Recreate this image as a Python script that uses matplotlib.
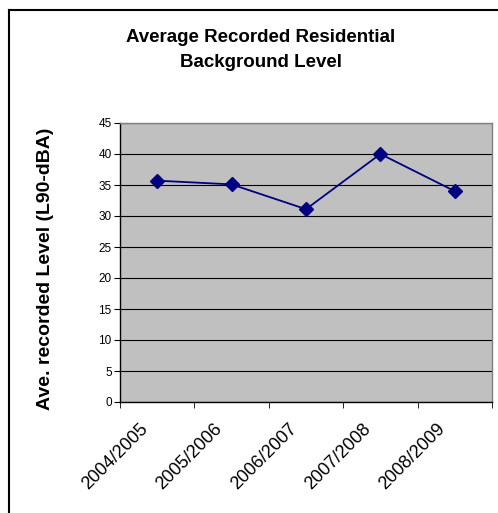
import matplotlib
matplotlib.use('Agg')
import matplotlib.pyplot as plt
from matplotlib.lines import Line2D
from matplotlib.transforms import ScaledTranslation

plt.rcParams['font.family'] = ['Liberation Sans', 'DejaVu Sans']

years = ['2004/2005', '2005/2006', '2006/2007', '2007/2008', '2008/2009']
levels = [35.7, 35.1, 31.1, 40.0, 34.0]
yticks = list(range(0, 50, 5))

fig = plt.figure(figsize=(4.98, 5.13), dpi=100)
ax = fig.add_axes([120 / 498, 111 / 513, 372 / 498, 279 / 513])

ax.set_facecolor('#c0c0c0')
x = list(range(len(years)))
ax.plot(x, levels, color='#000080', lw=1.3, marker='D', ms=7,
        markerfacecolor='#000080', markeredgecolor='#000080', zorder=3)

ax.set_xlim(-0.5, len(years) - 0.5)
ax.set_ylim(0, 45)
ax.set_yticks(yticks)
ax.set_yticklabels([str(v) for v in yticks], fontsize=8.5)
ax.grid(axis='y', color='black', lw=0.8)
ax.set_axisbelow(True)

# category labels centred, ticks on boundaries (excel style)
ax.set_xticks(x)
ax.set_xticklabels(years, rotation=45, ha='right', va='top', fontsize=13)
ax.tick_params(axis='x', length=0, pad=13)
shift = ScaledTranslation(-6 / 100, 0, fig.dpi_scale_trans)
for lab in ax.get_xticklabels():
    lab.set_transform(lab.get_transform() + shift)
ax.set_xticks([i - 0.5 for i in range(len(years) + 1)], minor=True)
ax.tick_params(axis='x', which='minor', length=4, color='black', direction='out')
ax.tick_params(axis='y', length=4, color='black', pad=2)

for s in ['top', 'right']:
    ax.spines[s].set_color('#808080')
    ax.spines[s].set_linewidth(1.0)
for s in ['left', 'bottom']:
    ax.spines[s].set_color('black')
    ax.spines[s].set_linewidth(1.0)

fig.text(261 / 498, 1 - 37 / 513, 'Average Recorded Residential', ha='center', va='center',
         fontsize=13.5, fontweight='bold')
fig.text(261 / 498, 1 - 63 / 513, 'Background Level', ha='center', va='center',
         fontsize=13.5, fontweight='bold')
fig.text(45 / 498, 1 - 269 / 513, 'Ave. recorded Level (L90-dBA)', ha='center', va='center',
         rotation=90, fontsize=14, fontweight='bold')

# chart area border
bx, by = 8.5 / 498, 1 - 9.5 / 513
fig.add_artist(Line2D([bx, bx], [0, by], color='black', lw=1.5, transform=fig.transFigure))
fig.add_artist(Line2D([bx, 1], [by, by], color='black', lw=1.5, transform=fig.transFigure))

fig.savefig('out.png', dpi=100)
